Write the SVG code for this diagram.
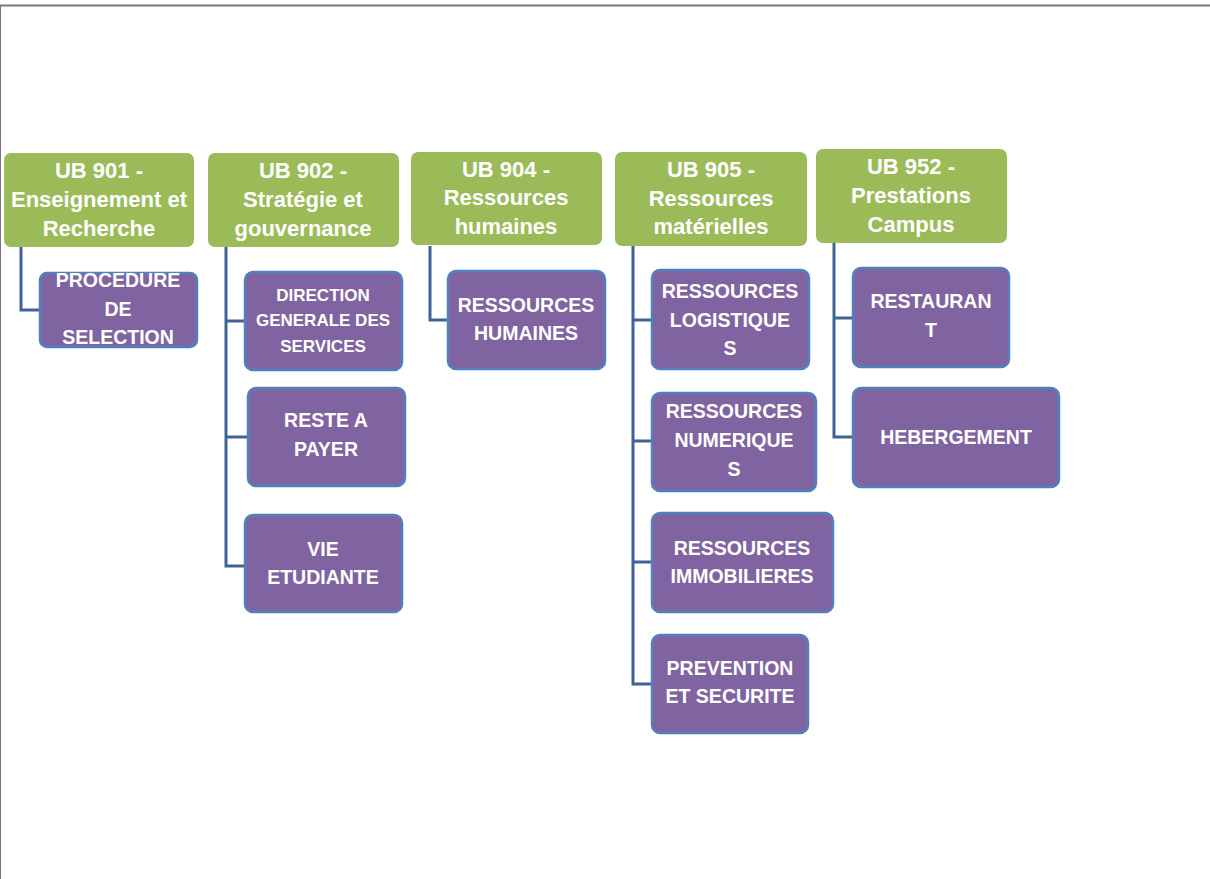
<svg xmlns="http://www.w3.org/2000/svg" width="1210" height="879" viewBox="0 0 1210 879">
<style>
.g{fill:#9BBB59;}
.p{fill:#8064A2;stroke:#4F81BD;stroke-width:2.5;}
.t{font-family:"Liberation Sans",Arial,sans-serif;font-weight:bold;fill:#fff;text-anchor:middle;}
.h{font-size:22px;}
.s{font-size:19.5px;}
.x{font-size:17px;}
.c{fill:none;stroke:#3F6398;stroke-width:3;}
</style>
<rect x="0" y="0" width="1210" height="879" fill="#fff"/>
<line x1="0" y1="5.5" x2="1210" y2="5.5" stroke="#777" stroke-width="2"/>
<line x1="0.5" y1="5" x2="0.5" y2="879" stroke="#777" stroke-width="1"/>

<g id="connectors">
<path class="c" d="M21 247 V310 H40"/>
<path class="c" d="M226 247 V566 H245 M226 321 H245 M226 437 H248"/>
<path class="c" d="M430 246 V320 H448"/>
<path class="c" d="M633 246 V684 H652 M633 320 H652 M633 441 H652 M633 562 H652"/>
<path class="c" d="M834 243 V437 H853 M834 318 H853"/>
</g>

<g id="ub901"><rect class="g" x="4" y="153" width="190" height="94" rx="7"/>
<text class="t h"><tspan x="99" y="178">UB 901 -</tspan><tspan x="99" y="207">Enseignement et</tspan><tspan x="99" y="236">Recherche</tspan></text></g>
<g id="ub902"><rect class="g" x="208" y="153" width="191" height="94" rx="7"/>
<text class="t h"><tspan x="303" y="178">UB 902 -</tspan><tspan x="303" y="207">Stratégie et</tspan><tspan x="303" y="236">gouvernance</tspan></text></g>
<g id="ub904"><rect class="g" x="411" y="152" width="191" height="93" rx="7"/>
<text class="t h"><tspan x="506" y="177">UB 904 -</tspan><tspan x="506" y="205">Ressources</tspan><tspan x="506" y="234">humaines</tspan></text></g>
<g id="ub905"><rect class="g" x="615" y="152" width="192" height="94" rx="7"/>
<text class="t h"><tspan x="711" y="177">UB 905 -</tspan><tspan x="711" y="206">Ressources</tspan><tspan x="711" y="234">matérielles</tspan></text></g>
<g id="ub952"><rect class="g" x="816" y="149" width="191" height="94" rx="7"/>
<text class="t h"><tspan x="911" y="174">UB 952 -</tspan><tspan x="911" y="203">Prestations</tspan><tspan x="911" y="232">Campus</tspan></text></g>

<g id="procedure"><rect class="p" x="40" y="273" width="157" height="74" rx="7"/>
<text class="t s"><tspan x="118" y="287">PROCEDURE</tspan><tspan x="118" y="316">DE</tspan><tspan x="118" y="344">SELECTION</tspan></text></g>
<g id="direction"><rect class="p" x="245" y="272" width="157" height="98" rx="8"/>
<text class="t x"><tspan x="323" y="301">DIRECTION</tspan><tspan x="323" y="326">GENERALE DES</tspan><tspan x="323" y="352">SERVICES</tspan></text></g>
<g id="reste"><rect class="p" x="248" y="388" width="157" height="98" rx="8"/>
<text class="t s"><tspan x="326" y="427">RESTE A</tspan><tspan x="326" y="456">PAYER</tspan></text></g>
<g id="vie"><rect class="p" x="245" y="515" width="157" height="97" rx="8"/>
<text class="t s"><tspan x="323" y="556">VIE</tspan><tspan x="323" y="584">ETUDIANTE</tspan></text></g>
<g id="rh"><rect class="p" x="448" y="271" width="157" height="98" rx="8"/>
<text class="t s"><tspan x="526" y="312">RESSOURCES</tspan><tspan x="526" y="340">HUMAINES</tspan></text></g>
<g id="logistiques"><rect class="p" x="652" y="270" width="157" height="99" rx="8"/>
<text class="t s"><tspan x="730" y="298">RESSOURCES</tspan><tspan x="730" y="327">LOGISTIQUE</tspan><tspan x="730" y="355">S</tspan></text></g>
<g id="numeriques"><rect class="p" x="652" y="393" width="164" height="98" rx="8"/>
<text class="t s"><tspan x="734" y="418">RESSOURCES</tspan><tspan x="734" y="447">NUMERIQUE</tspan><tspan x="734" y="476">S</tspan></text></g>
<g id="immobilieres"><rect class="p" x="652" y="513" width="181" height="99" rx="8"/>
<text class="t s"><tspan x="742" y="555">RESSOURCES</tspan><tspan x="742" y="583">IMMOBILIERES</tspan></text></g>
<g id="prevention"><rect class="p" x="652" y="635" width="156" height="98" rx="8"/>
<text class="t s"><tspan x="730" y="675">PREVENTION</tspan><tspan x="730" y="703">ET SECURITE</tspan></text></g>
<g id="restaurant"><rect class="p" x="853" y="268" width="156" height="99" rx="8"/>
<text class="t s"><tspan x="931" y="308">RESTAURAN</tspan><tspan x="931" y="337">T</tspan></text></g>
<g id="hebergement"><rect class="p" x="853" y="388" width="206" height="99" rx="8"/>
<text class="t s"><tspan x="956" y="444">HEBERGEMENT</tspan></text></g>
</svg>
